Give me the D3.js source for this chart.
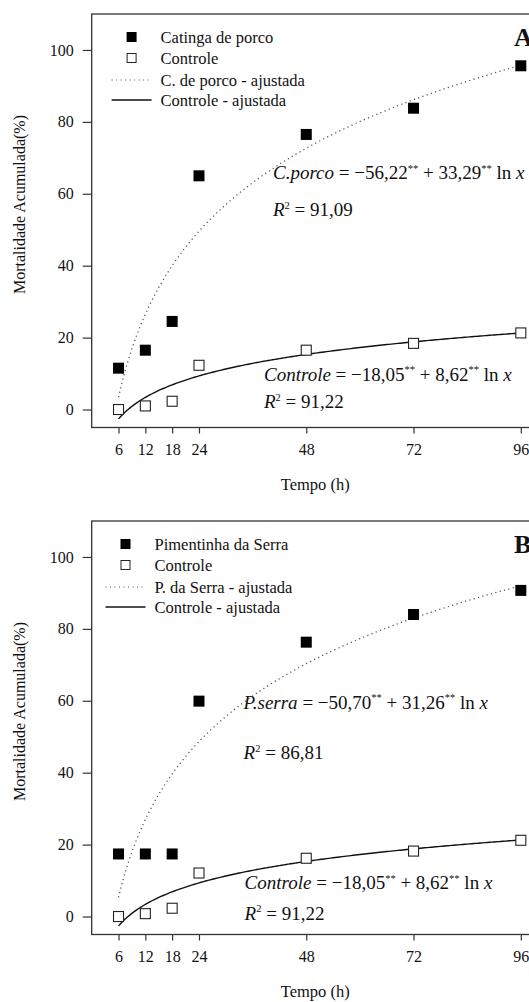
<!DOCTYPE html>
<html>
<head>
<meta charset="utf-8">
<script src="https://cdn.jsdelivr.net/npm/d3@7"></script>
<style>
  body { margin: 0; background: #fff; }
  svg { display: block; font-family: "Liberation Serif", "Times New Roman", serif; }
</style>
</head>
<body>
<div id="chart"></div>
<script>
const hours = [6, 12, 18, 24, 48, 72, 96];
const xTicks = [6, 12, 18, 24, 48, 72, 96];
const yTicks = [0, 20, 40, 60, 80, 100];

// panel A
const catingaValues = [11.5, 16.5, 24.5, 65, 76.5, 83.8, 95.6];
const controleAValues = [0, 1, 2.3, 12.3, 16.5, 18.4, 21.3];
const catingaFit = [-56.22, 33.29];
// panel B
const pimentinhaValues = [17.4, 17.4, 17.4, 59.9, 76.3, 84, 90.7];
const controleBValues = [0, 0.8, 2.3, 12.1, 16.2, 18.2, 21.2];
const pimentinhaFit = [-50.70, 31.26];
const controleFit = [-18.05, 8.62];

const WIDTH = 529;
const HEIGHT = 1002;

const svg = d3
  .select("#chart")
  .append("svg")
  .attr("width", WIDTH)
  .attr("height", HEIGHT);

const x = d3.scaleLinear().domain([0, 100]).range([91.7, 538.7]);

const panels = [
  {
    letter: "A",
    top: 14,
    treat: catingaValues,
    ctrl: controleAValues,
    treatFit: catingaFit,
    ctrlFit: controleFit,
    legend: ["Catinga de porco", "Controle", "C. de porco - ajustada", "Controle - ajustada"],
    legendX: 131.6,
    treatEq: { x: 273, y: 165, name: "C.porco", a: "−56,22", b: "33,29", r2: "91,09", r2y: 202 },
    ctrlEq: { x: 264, y: 366.5, name: "Controle", a: "−18,05", b: "8,62", r2: "91,22", r2y: 394 },
  },
  {
    letter: "B",
    top: 521,
    treat: pimentinhaValues,
    ctrl: controleBValues,
    treatFit: pimentinhaFit,
    ctrlFit: controleFit,
    legend: ["Pimentinha da Serra", "Controle", "P. da Serra - ajustada", "Controle - ajustada"],
    legendX: 125.5,
    treatEq: { x: 243.6, y: 187.5, name: "P.serra", a: "−50,70", b: "31,26", r2: "86,81", r2y: 238 },
    ctrlEq: { x: 244.6, y: 368, name: "Controle", a: "−18,05", b: "8,62", r2: "91,22", r2y: 398.5 },
  },
];

// writes text with italic / superscript pieces
function mathText(g, px, py, parts, size) {
  const t = g.append("text").attr("x", px).attr("y", py).style("font-size", size + "px").attr("fill", "#111");
  let raised = false;
  parts.forEach((p) => {
    const s = t.append("tspan").text(p[0]);
    if (p[1] === "i") s.style("font-style", "italic");
    if (p[1] === "s") {
      s.style("font-size", "10.5px").attr("dy", -7.5);
      raised = true;
    } else if (raised) {
      s.attr("dy", 7.5);
      raised = false;
    }
  });
}

panels.forEach((p) => {
  const g = svg.append("g");
  const y = d3.scaleLinear().domain([-5, 110]).range([p.top + 413.5, p.top]);

  // frame (right side runs off the picture)
  g.append("rect")
    .attr("x", x(0))
    .attr("y", y(110))
    .attr("width", x(100) - x(0))
    .attr("height", y(-5) - y(110))
    .style("fill", "none")
    .style("stroke", "#333")
    .style("stroke-width", "1.3px");

  g.append("g")
    .attr("transform", `translate(${x(0)}, 0)`)
    .call(d3.axisLeft(y).tickValues(yTicks).tickSize(9).tickPadding(9))
    .call((a) => a.select(".domain").remove())
    .call((a) => a.selectAll("line").style("stroke", "#333").style("stroke-width", "1.2px"))
    .call((a) => a.selectAll("text").style("font-size", "16px").style("font-family", "Liberation Serif").attr("fill", "#111"));

  g.append("g")
    .attr("transform", `translate(0, ${y(-5)})`)
    .call(d3.axisBottom(x).tickValues(xTicks).tickSize(6).tickPadding(10))
    .call((a) => a.select(".domain").remove())
    .call((a) => a.selectAll("line").style("stroke", "#333").style("stroke-width", "1.2px"))
    .call((a) => a.selectAll("text").style("font-size", "16px").style("font-family", "Liberation Serif").attr("fill", "#111"));

  g.append("text")
    .attr("transform", `translate(25, ${y(57)}) rotate(-90)`)
    .style("text-anchor", "middle")
    .style("font-size", "16px")
    .attr("fill", "#111")
    .text("Mortalidade Acumulada(%)");

  g.append("text")
    .attr("x", x(50))
    .attr("y", y(-5) + 62)
    .style("text-anchor", "middle")
    .style("font-size", "16.5px")
    .attr("fill", "#111")
    .text("Tempo (h)");

  g.append("text")
    .attr("x", 514)
    .attr("y", p.top + 32)
    .style("font-size", "26px")
    .style("font-weight", "bold")
    .attr("fill", "#111")
    .text(p.letter);

  // fitted curves
  const fitX = d3.range(6, 96.01, 0.5);
  const line = (c) =>
    d3.line()
      .x((d) => x(d))
      .y((d) => y(c[0] + c[1] * Math.log(d)))(fitX);

  g.append("path")
    .attr("d", line(p.treatFit))
    .style("fill", "none")
    .style("stroke", "#555")
    .style("stroke-width", "1.3px")
    .style("stroke-dasharray", "1.2,3.3");

  g.append("path")
    .attr("d", line(p.ctrlFit))
    .style("fill", "none")
    .style("stroke", "#111")
    .style("stroke-width", "1.4px");

  // points
  const size = 11;
  g.selectAll(".ctrl")
    .data(p.ctrl)
    .enter()
    .append("rect")
    .attr("x", (d, i) => x(hours[i]) - size / 2 + 0.5)
    .attr("y", (d) => y(d) - size / 2 + 0.5)
    .attr("width", size - 1)
    .attr("height", size - 1)
    .style("fill", "#fff")
    .style("stroke", "#222")
    .style("stroke-width", "1.1px");

  g.selectAll(".treat")
    .data(p.treat)
    .enter()
    .append("rect")
    .attr("x", (d, i) => x(hours[i]) - size / 2)
    .attr("y", (d) => y(d) - size / 2)
    .attr("width", size)
    .attr("height", size)
    .style("fill", "#000");

  // legend
  const rows = [23, 44, 66, 86].map((r) => p.top + r);
  const lx = p.legendX;
  g.append("rect").attr("x", lx - 5).attr("y", rows[0] - 5).attr("width", 10).attr("height", 10).style("fill", "#000");
  g.append("rect").attr("x", lx - 4.5).attr("y", rows[1] - 4.5).attr("width", 9).attr("height", 9)
    .style("fill", "#fff").style("stroke", "#222").style("stroke-width", "1px");
  g.append("line").attr("x1", lx - 20).attr("x2", lx + 20).attr("y1", rows[2]).attr("y2", rows[2])
    .style("stroke", "#555").style("stroke-width", "1.2px").style("stroke-dasharray", "1,3.5");
  g.append("line").attr("x1", lx - 20).attr("x2", lx + 20).attr("y1", rows[3]).attr("y2", rows[3])
    .style("stroke", "#111").style("stroke-width", "1.4px");
  g.selectAll(".leg")
    .data(p.legend)
    .enter()
    .append("text")
    .attr("x", lx + 29)
    .attr("y", (d, i) => rows[i] + 5.5)
    .style("font-size", "16.5px")
    .attr("fill", "#111")
    .text((d) => d);

  // equations (y given from the panel top)
  [p.treatEq, p.ctrlEq].forEach((e) => {
    mathText(g, e.x, p.top + e.y, [
      [e.name, "i"], [" = " + e.a, "n"], ["**", "s"], [" + " + e.b, "n"], ["**", "s"], [" ln ", "n"], ["x", "i"],
    ], 19);
    mathText(g, e.x, p.top + e.r2y, [["R", "i"], ["2", "s"], [" = " + e.r2, "n"]], 19);
  });
});
</script>
</body>
</html>
